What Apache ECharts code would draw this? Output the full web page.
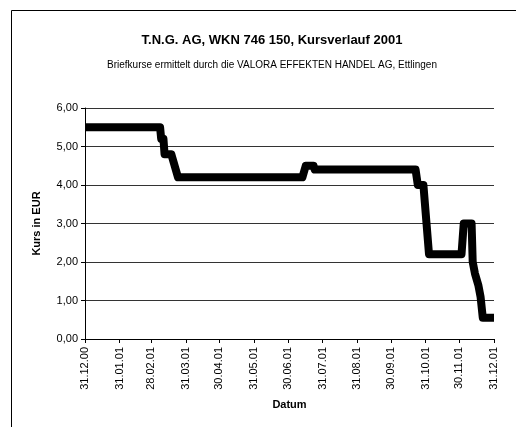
<!DOCTYPE html>
<html><head><meta charset="utf-8">
<script src="https://cdn.jsdelivr.net/npm/echarts@6/dist/echarts.min.js"></script>
<style>html,body{margin:0;padding:0;background:#fff}#c{width:516px;height:427px}</style>
</head><body><div id="c"></div>
<script>
// Day offsets from 31.12.2000 and price in EUR at each change point
var pointDays   = [0,  67,  68,  70,  71,  77,  79,  80,  83,  194, 197, 204, 205, 295, 297, 302, 307, 336, 338, 345, 346, 348, 351, 353, 355, 365];
var pointValues = [5.5,5.5, 5.2, 5.2, 4.8, 4.8, 4.6, 4.6, 4.2, 4.2, 4.5, 4.5, 4.4, 4.4, 4.0, 4.0, 2.2, 2.2, 3.0, 3.0, 2.0, 1.7, 1.4, 1.1, 0.55,0.55];
var tickDays   = [0, 31, 59, 90, 120, 151, 181, 212, 243, 273, 304, 334, 365];
var tickLabels = ['31.12.00','31.01.01','28.02.01','31.03.01','30.04.01','31.05.01','30.06.01','31.07.01','31.08.01','30.09.01','31.10.01','30.11.01','31.12.01'];

var data = pointDays.map(function(d,i){return [d, pointValues[i]];});
var chart = echarts.init(document.getElementById('c'), null, {renderer:'canvas'});
var font = 'Liberation Sans, Arial, sans-serif';
chart.setOption({
  animation:false,
  backgroundColor:'#fff',
  title:{
    text:'T.N.G. AG, WKN 746 150, Kursverlauf 2001',
    subtext:'Briefkurse ermittelt durch die VALORA EFFEKTEN HANDEL AG, Ettlingen',
    left:267, top:29, textAlign:'center', itemGap:13,
    textStyle:{fontFamily:font,fontSize:13,fontWeight:'bold',color:'#000'},
    subtextStyle:{fontFamily:font,fontSize:10,color:'#000'}
  },
  graphic:[{type:'rect',shape:{x:11.5,y:10.5,width:700,height:600},style:{fill:null,stroke:'#000',lineWidth:1},silent:true,z:-1}],
  grid:{left:85,right:22,top:108,bottom:88,containLabel:false},
  xAxis:{
    type:'value', min:0, max:365,
    name:'Datum', nameLocation:'middle', nameGap:60,
    nameTextStyle:{fontFamily:font,fontSize:11,fontWeight:'bold',color:'#000'},
    axisLine:{show:true,lineStyle:{color:'#000',width:1}},
    axisTick:{show:true,length:4,customValues:tickDays,lineStyle:{color:'#000'}},
    axisLabel:{customValues:tickDays,rotate:90,margin:8,fontFamily:font,fontSize:11,color:'#000',
      formatter:function(v){var i=tickDays.indexOf(Math.round(v));return i>=0?tickLabels[i]:'';}},
    splitLine:{show:false}
  },
  yAxis:{
    type:'value', min:0, max:6, interval:1,
    name:'Kurs in EUR', nameLocation:'middle', nameGap:43,
    nameTextStyle:{fontFamily:font,fontSize:11,fontWeight:'bold',color:'#000'},
    axisLine:{show:true,lineStyle:{color:'#000',width:1}},
    axisTick:{show:true,length:4,lineStyle:{color:'#000'}},
    axisLabel:{margin:7,fontFamily:font,fontSize:11,color:'#000',
      formatter:function(v){return v.toFixed(2).replace('.',',');}},
    splitLine:{show:true,lineStyle:{color:'#333',width:1}}
  },
  series:[{
    type:'line', data:data, showSymbol:false, symbol:'none',
    lineStyle:{color:'#000',width:8,join:'round',cap:'butt'},
    clip:false
  }]
});
</script></body></html>
